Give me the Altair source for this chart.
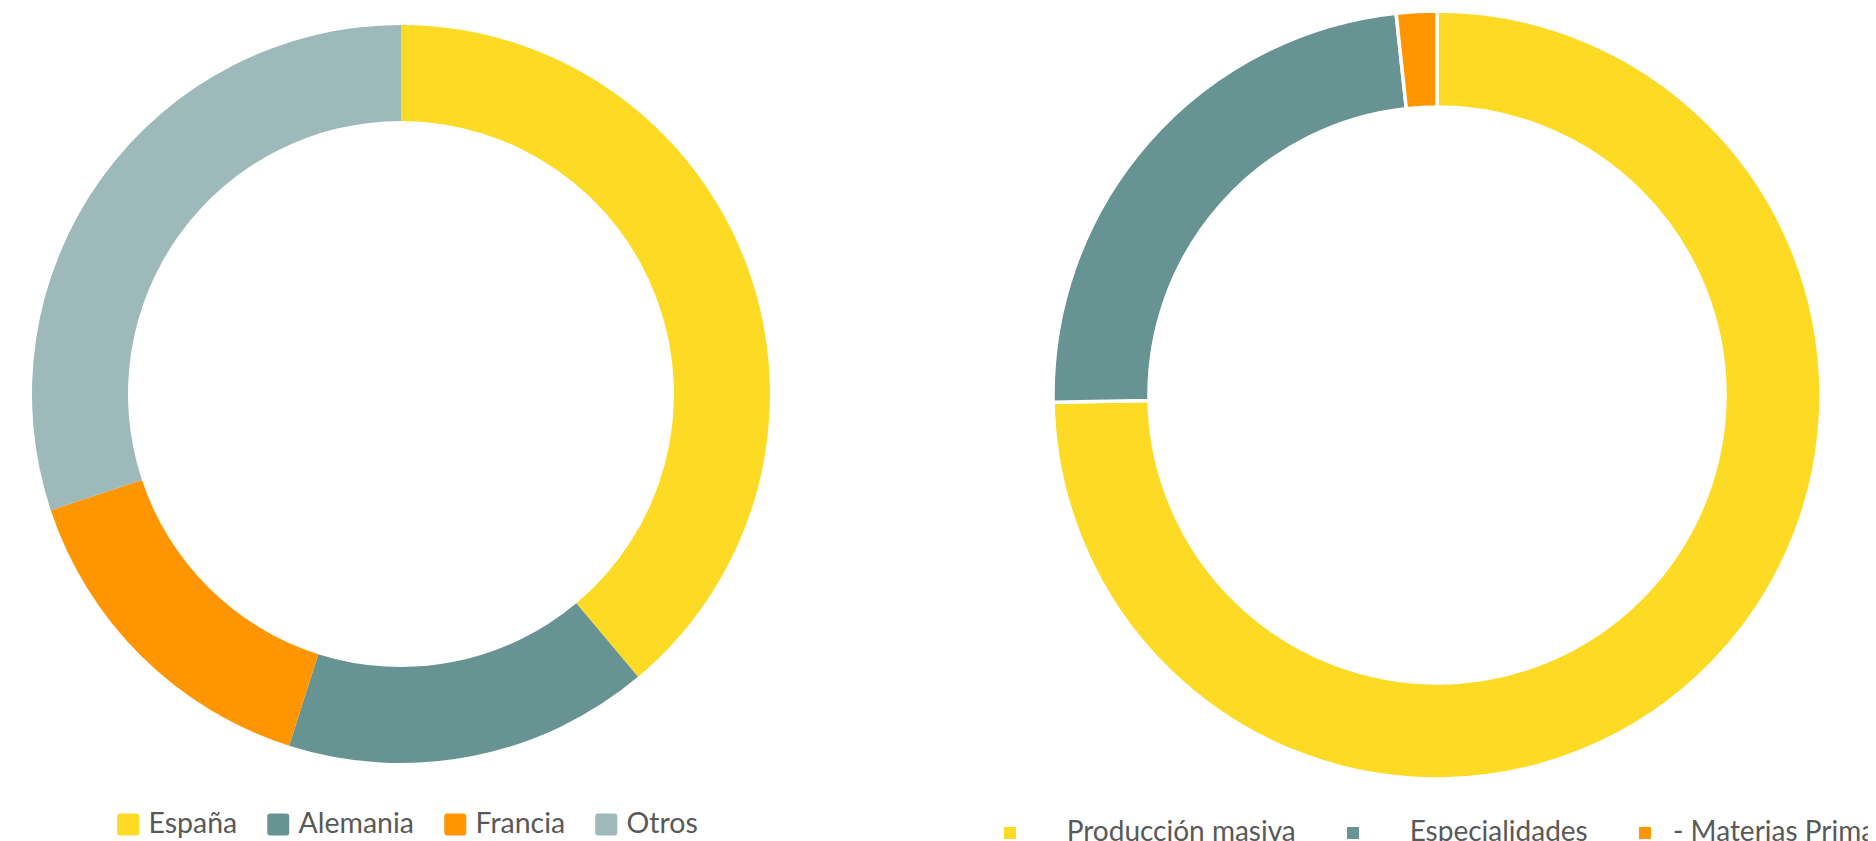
import altair as alt
import pandas as pd

# ---- data ----
left_categories = ["España", "Alemania", "Francia", "Otros"]
left_values = [38.9, 16.0, 15.0, 30.1]
left_colors = ["#FDDA24", "#679393", "#FF9500", "#9DB9B9"]

right_categories = ["Producción masiva", "Especialidades", "- Materias Primas"]
right_values = [74.7, 23.6, 1.7]
right_colors = ["#FDDA24", "#679393", "#FF9500"]

df_left = pd.DataFrame({
    "categoria": left_categories,
    "valor": left_values,
    "orden": list(range(len(left_categories))),
})
df_right = pd.DataFrame({
    "categoria": right_categories,
    "valor": right_values,
    "orden": list(range(len(right_categories))),
})

FONT = "Lato"
TXT = "#595959"

rounded_square = ("M -0.73,-1 L 0.73,-1 Q 1,-1 1,-0.73 L 1,0.73 Q 1,1 0.73,1 "
                  "L -0.73,1 Q -1,1 -1,0.73 L -1,-0.73 Q -1,-1 -0.73,-1 Z")

left = alt.Chart(df_left).mark_arc(
    outerRadius=369, innerRadius=273, strokeWidth=0
).encode(
    theta=alt.Theta("valor:Q", stack=True),
    order=alt.Order("orden:Q"),
    color=alt.Color(
        "categoria:N",
        sort=left_categories,
        scale=alt.Scale(domain=left_categories, range=left_colors),
        legend=alt.Legend(
            title=None, orient="none", legendX=106, legendY=802,
            direction="horizontal", symbolType=rounded_square, symbolSize=484,
            symbolStrokeWidth=0, labelFont=FONT, labelFontSize=28.5,
            labelColor=TXT, labelOffset=6, columnPadding=26, padding=0,
            labelLimit=600,
        ),
    ),
    x=alt.value(393),
    y=alt.value(386),
)

indent = "\u200b" + "\u00a0" * 4
right = alt.Chart(df_right).mark_arc(
    outerRadius=384, innerRadius=288, stroke="white", strokeWidth=3.5
).encode(
    theta=alt.Theta("valor:Q", stack=True),
    order=alt.Order("orden:Q"),
    color=alt.Color(
        "categoria:N",
        sort=right_categories,
        scale=alt.Scale(domain=right_categories, range=right_colors),
        legend=alt.Legend(
            title=None, orient="none", legendX=988, legendY=811,
            direction="horizontal", symbolType="square", symbolSize=144,
            symbolStrokeWidth=0, labelFont=FONT, labelFontSize=28,
            labelColor=TXT, labelOffset=14, columnPadding=43, padding=0,
            labelLimit=600,
            labelExpr="indexof(datum.label, '-') == 0 ? datum.label : '" + indent + "' + datum.label",
        ),
    ),
    x=alt.value(1429),
    y=alt.value(387),
)

chart = alt.layer(left, right).resolve_scale(
    color="independent", theta="independent"
).properties(
    width=1860, height=833,
    autosize=alt.AutoSizeParams(type="none"),
    padding=0,
    background="white",
).configure_view(stroke=None)

chart.save("out.html", embed_options={"renderer": "svg", "actions": False})
